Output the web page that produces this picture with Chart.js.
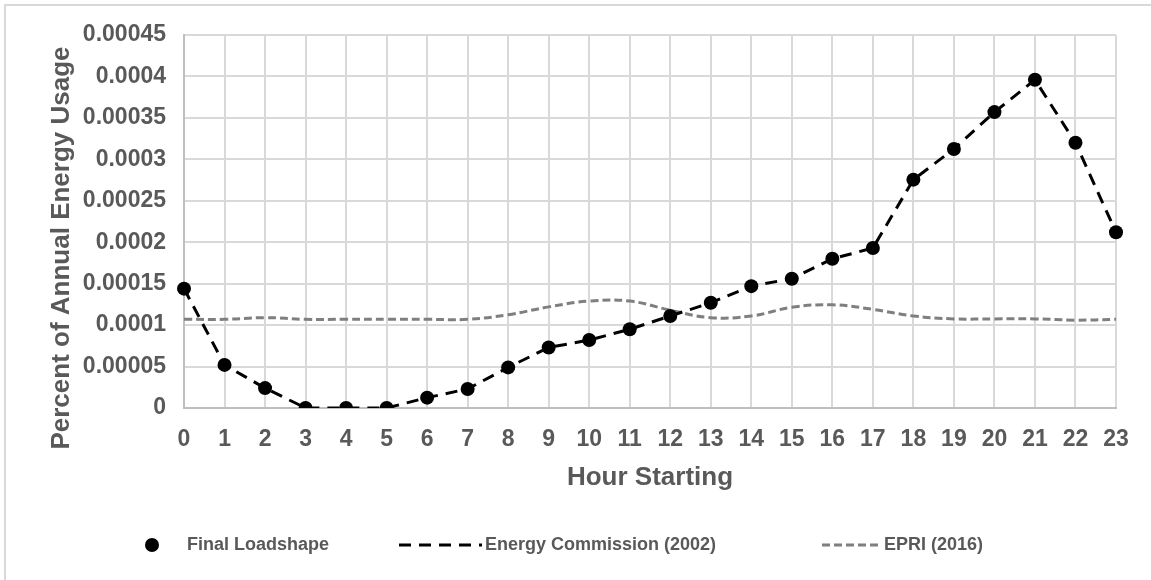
<!DOCTYPE html>
<html>
<head>
<meta charset="utf-8">
<title>Hourly Loadshape Comparison</title>
<script src="https://cdn.jsdelivr.net/npm/chart.js@4.4.1/dist/chart.umd.min.js"></script>
<style>
  html, body { margin: 0; padding: 0; background: #ffffff; }
  #wrap { position: relative; width: 1151px; height: 580px; }
</style>
</head>
<body>
<div id="wrap"><canvas id="loadChart" width="1151" height="580"></canvas></div>
<script>
// Hour of day (x categories)
const hours = ['0','1','2','3','4','5','6','7','8','9','10','11','12','13','14','15','16','17','18','19','20','21','22','23'];

// Series values
const finalLoadshape = [0.000144, 0.000052, 0.000024, 0, 0, 0, 0.0000125, 0.000023, 0.000049, 0.000073,
                        0.000082, 0.000095, 0.000111, 0.000127, 0.000147, 0.000156, 0.00018, 0.000193,
                        0.0002755, 0.0003125, 0.000357, 0.000396, 0.00032, 0.000212];
const energyCommission2002 = [0.000144, 0.000052, 0.000024, 0, 0, 0, 0.0000125, 0.000023, 0.000049, 0.000073,
                              0.000082, 0.000095, 0.000111, 0.000127, 0.000147, 0.000156, 0.00018, 0.000193,
                              0.0002755, 0.0003125, 0.000357, 0.000396, 0.00032, 0.000212];
const epri2016 = [0.000107, 0.000107, 0.000109, 0.000107, 0.000107, 0.000107, 0.000107, 0.000107, 0.0001125, 0.000122,
                  0.000129, 0.000129, 0.000118, 0.000109, 0.000111, 0.0001215, 0.0001245, 0.000119,
                  0.000111, 0.0001075, 0.0001075, 0.0001075, 0.000106, 0.000107];

// Y tick labels, bottom to top
const yTickLabels = ['0','0.00005','0.0001','0.00015','0.0002','0.00025','0.0003','0.00035','0.0004','0.00045'];

const legendItems = ['Final Loadshape', 'Energy Commission (2002)', 'EPRI (2016)'];
const yTitle = 'Percent of Annual Energy Usage';

const textGray = '#595959';
const fontFamily = '"Liberation Sans", Arial, sans-serif';

// Frame lines, y axis title (sits a bit low, like the original) and the bottom legend
const framePlugin = {
    id: 'frame',
    beforeDraw(chart) {
        const ctx = chart.ctx;
        ctx.save();
        ctx.strokeStyle = '#d9d9d9';
        ctx.lineWidth = 2;
        ctx.beginPath();
        ctx.moveTo(4, 5);
        ctx.lineTo(1151, 5);
        ctx.moveTo(5, 4);
        ctx.lineTo(5, 580);
        ctx.stroke();
        ctx.restore();
    },
    afterDraw(chart) {
        const ctx = chart.ctx;
        ctx.save();

        // y axis title
        ctx.save();
        ctx.translate(62, 248);
        ctx.rotate(-Math.PI / 2);
        ctx.font = 'bold 26px ' + fontFamily;
        ctx.fillStyle = textGray;
        ctx.textAlign = 'center';
        ctx.textBaseline = 'middle';
        ctx.fillText(yTitle, 0, 0);
        ctx.restore();

        const y = 545;
        ctx.font = 'bold 18px ' + fontFamily;
        ctx.fillStyle = textGray;
        ctx.textBaseline = 'middle';

        // Final Loadshape marker
        ctx.beginPath();
        ctx.arc(152, y, 7, 0, Math.PI * 2);
        ctx.fillStyle = '#000000';
        ctx.fill();
        ctx.fillStyle = textGray;
        ctx.fillText(legendItems[0], 187, y);

        // Energy Commission dashed line
        ctx.strokeStyle = '#000000';
        ctx.lineWidth = 3;
        ctx.setLineDash([12, 8]);
        ctx.beginPath();
        ctx.moveTo(399, y);
        ctx.lineTo(482, y);
        ctx.stroke();
        ctx.fillText(legendItems[1], 485, y);

        // EPRI dashed line
        ctx.strokeStyle = '#7f7f7f';
        ctx.setLineDash([8, 4]);
        ctx.beginPath();
        ctx.moveTo(822, y);
        ctx.lineTo(880, y);
        ctx.stroke();
        ctx.setLineDash([]);
        ctx.fillText(legendItems[2], 884, y);
        ctx.restore();
    }
};

const ctx = document.getElementById('loadChart');

new Chart(ctx, {
    type: 'line',
    data: {
        labels: hours,
        datasets: [{
            label: legendItems[0],
            data: finalLoadshape,
            showLine: false,
            pointRadius: 7,
            pointBackgroundColor: '#000000',
            pointBorderColor: '#000000',
            pointBorderWidth: 0
        }, {
            label: legendItems[1],
            data: energyCommission2002,
            borderColor: '#000000',
            borderWidth: 3,
            borderDash: [12, 8],
            pointRadius: 0,
            tension: 0
        }, {
            label: legendItems[2],
            data: epri2016,
            borderColor: '#7f7f7f',
            borderWidth: 3,
            borderDash: [8, 4],
            pointRadius: 0,
            tension: 0.4
        }]
    },
    options: {
        responsive: false,
        animation: false,
        layout: {
            padding: { left: 0, right: 35, top: 35, bottom: 87 }
        },
        plugins: {
            legend: { display: false },
            tooltip: { enabled: false }
        },
        scales: {
            x: {
                type: 'category',
                offset: false,
                grid: {
                    color: '#d9d9d9',
                    lineWidth: 2,
                    drawTicks: false,
                    offset: false
                },
                border: { color: '#bfbfbf', width: 2 },
                ticks: {
                    color: textGray,
                    font: { family: fontFamily, size: 23, weight: 'bold' },
                    padding: 18,
                    maxRotation: 0,
                    autoSkip: false
                },
                title: {
                    display: true,
                    text: 'Hour Starting',
                    color: textGray,
                    font: { family: fontFamily, size: 26, weight: 'bold' },
                    padding: { top: 0, bottom: 0 }
                },
                afterFit(scale) { scale.height = 85; }
            },
            y: {
                min: 0,
                max: 0.00045,
                grid: {
                    color: '#d9d9d9',
                    lineWidth: 2,
                    drawTicks: false
                },
                border: { color: '#bfbfbf', width: 2 },
                ticks: {
                    stepSize: 0.00005,
                    color: textGray,
                    font: { family: fontFamily, size: 23, weight: 'bold' },
                    padding: 18,
                    callback: (value, index) => yTickLabels[index]
                },
                afterFit(scale) { scale.width = 184; }
            }
        }
    },
    plugins: [framePlugin]
});
</script>
</body>
</html>
